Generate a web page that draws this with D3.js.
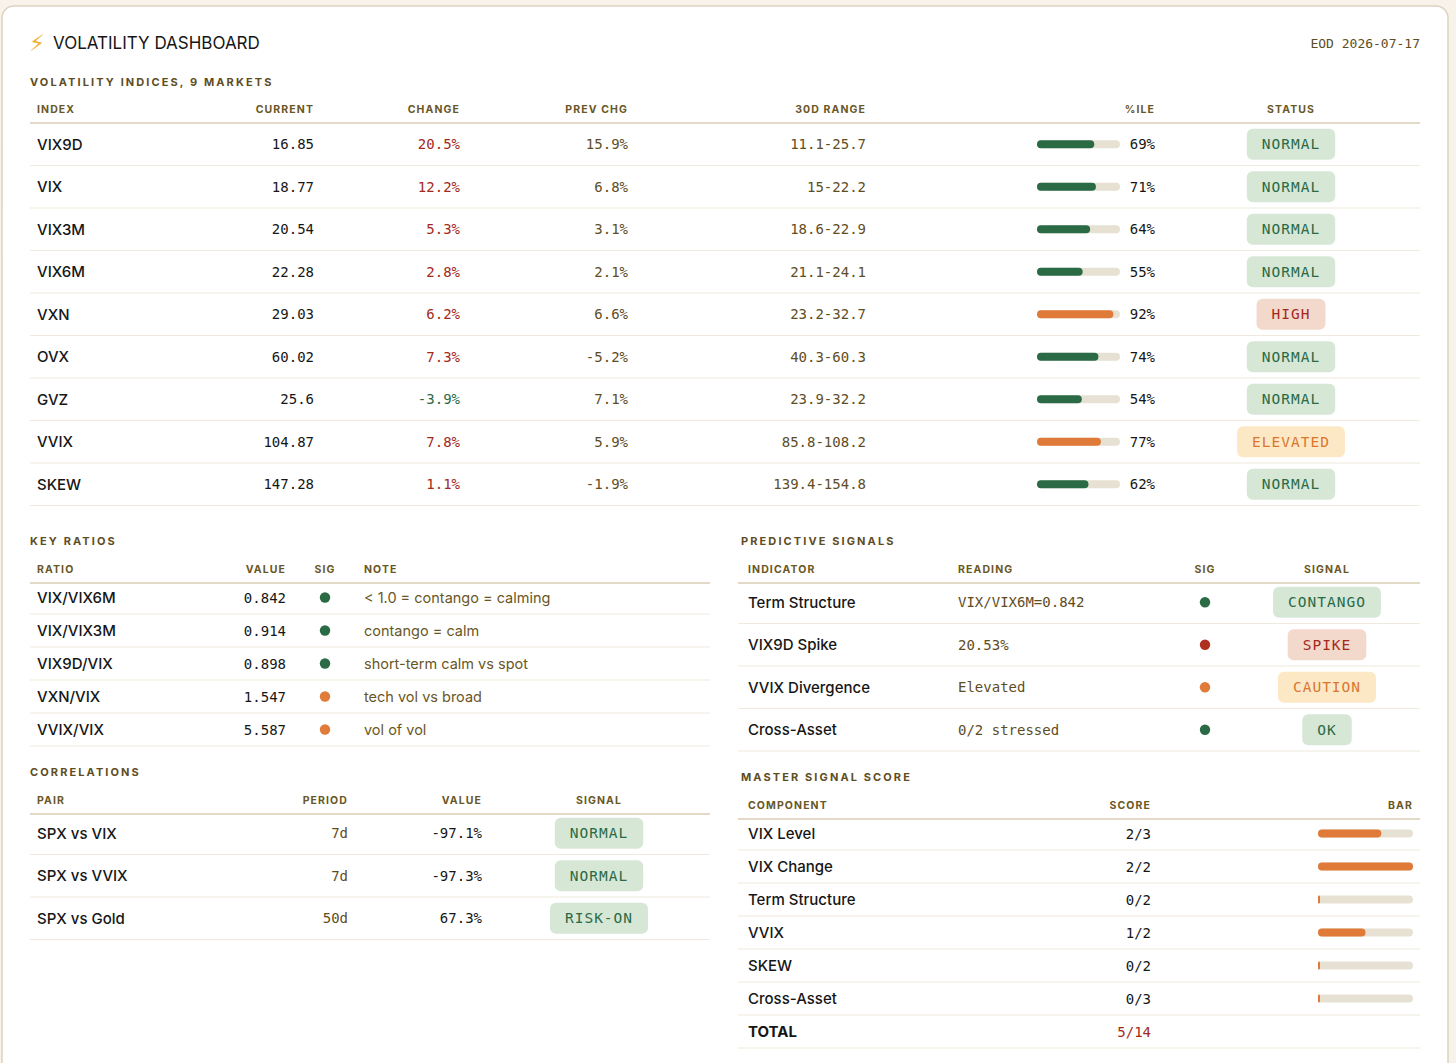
<!DOCTYPE html>
<html>
<head>
<meta charset="utf-8">
<script src="https://cdn.jsdelivr.net/npm/d3@7"></script>
<style>
  html, body { margin: 0; padding: 0; background: #f7f3ea; }
  svg { display: block; }
</style>
</head>
<body>
<div id="dash"></div>
<script>
// ---- data ----
// volatility indices
const indexNames = ["VIX9D", "VIX", "VIX3M", "VIX6M", "VXN", "OVX", "GVZ", "VVIX", "SKEW"];
const currentVals = ["16.85", "18.77", "20.54", "22.28", "29.03", "60.02", "25.6", "104.87", "147.28"];
const changePct = [20.5, 12.2, 5.3, 2.8, 6.2, 7.3, -3.9, 7.8, 1.1];
const prevChgPct = [15.9, 6.8, 3.1, 2.1, 6.6, -5.2, 7.1, 5.9, -1.9];
const rangeLow = [11.1, 15, 18.6, 21.1, 23.2, 40.3, 23.9, 85.8, 139.4];
const rangeHigh = [25.7, 22.2, 22.9, 24.1, 32.7, 60.3, 32.2, 108.2, 154.8];
const percentile = [69, 71, 64, 55, 92, 74, 54, 77, 62];
const statusVals = ["NORMAL", "NORMAL", "NORMAL", "NORMAL", "HIGH", "NORMAL", "NORMAL", "ELEVATED", "NORMAL"];

// key ratios
const ratioNames = ["VIX/VIX6M", "VIX/VIX3M", "VIX9D/VIX", "VXN/VIX", "VVIX/VIX"];
const ratioVals = ["0.842", "0.914", "0.898", "1.547", "5.587"];
const ratioSig = ["green", "green", "green", "orange", "orange"];
const ratioNotes = ["< 1.0 = contango = calming", "contango = calm", "short-term calm vs spot", "tech vol vs broad", "vol of vol"];

// correlations
const corrPairs = ["SPX vs VIX", "SPX vs VVIX", "SPX vs Gold"];
const corrPeriods = ["7d", "7d", "50d"];
const corrVals = [-97.1, -97.3, 67.3];
const corrSignals = ["NORMAL", "NORMAL", "RISK-ON"];

// predictive signals
const indicators = ["Term Structure", "VIX9D Spike", "VVIX Divergence", "Cross-Asset"];
const readings = ["VIX/VIX6M=0.842", "20.53%", "Elevated", "0/2 stressed"];
const indicatorSig = ["green", "red", "orange", "green"];
const indicatorSignals = ["CONTANGO", "SPIKE", "CAUTION", "OK"];

// master signal score
const components = ["VIX Level", "VIX Change", "Term Structure", "VVIX", "SKEW", "Cross-Asset"];
const scores = [2, 2, 0, 1, 0, 0];
const maxScores = [3, 2, 2, 2, 2, 3];

// ---- styles ----
const SANS = "Inter, 'Noto Sans', sans-serif";
const MONO = "'DejaVu Sans Mono', 'Liberation Mono', monospace";
const C = {
  ink: "#161616",
  olive: "#5e4d1f",
  head: "#6a5726",
  red: "#a3291b",
  green: "#2a6a45",
  orange: "#df7a38",
  track: "#e7e1d4",
  rowLine: "#efe9de",
  headLine: "#d8ccb4"
};
const dotColor = { green: "#2a6a45", orange: "#e07b39", red: "#b0301f" };
const badgeStyle = {
  NORMAL: ["#d6e7d6", "#2a6a45"], CONTANGO: ["#d6e7d6", "#2a6a45"],
  OK: ["#d6e7d6", "#2a6a45"], "RISK-ON": ["#d6e7d6", "#2a6a45"],
  HIGH: ["#f3d9cc", "#a3291b"], SPIKE: ["#f3d9cc", "#a3291b"],
  ELEVATED: ["#fde8c6", "#d9772f"], CAUTION: ["#fde8c6", "#d9772f"]
};

const W = 1456, H = 1063;
const svg = d3.select("#dash").append("svg").attr("width", W).attr("height", H);

// card
svg.append("rect")
  .attr("x", 2).attr("y", 6).attr("width", 1446).attr("height", 1120)
  .attr("rx", 12).attr("fill", "#ffffff")
  .attr("stroke", "#ddd2be").attr("stroke-width", 1.5);

// title
svg.append("text").attr("x", 29).attr("y", 51)
  .style("font-family", "'DejaVu Sans', sans-serif").style("font-size", "23px")
  .attr("fill", "#f2b234").text("⚡");
svg.append("text").attr("x", 53).attr("y", 49)
  .style("font-family", SANS).style("font-size", "17px").style("font-weight", 400)
  .attr("fill", C.ink).text("VOLATILITY DASHBOARD");
svg.append("text").attr("x", 1420).attr("y", 48).attr("text-anchor", "end")
  .style("font-family", MONO).style("font-size", "13px")
  .attr("fill", C.olive).text("EOD 2026-07-17");

// helpers
function sectionTitle(x, y, label) {
  svg.append("text").attr("x", x).attr("y", y)
    .style("font-family", SANS).style("font-size", "11px").style("font-weight", 700)
    .style("letter-spacing", "2.1px").attr("fill", C.olive).text(label);
}

function headerRow(y, x0, x1, cols) {
  cols.forEach(c => {
    svg.append("text").attr("x", c.x).attr("y", y)
      .attr("text-anchor", c.anchor || "start")
      .style("font-family", SANS).style("font-size", "10.5px").style("font-weight", 650)
      .style("letter-spacing", "1.1px").attr("fill", C.head).text(c.label);
  });
  svg.append("line").attr("x1", x0).attr("x2", x1).attr("y1", y + 10).attr("y2", y + 10)
    .attr("stroke", C.headLine).attr("stroke-width", 1.3);
}

function rowLines(g, y, x0, x1, keys) {
  g.selectAll("line.sep").data(keys).join("line").attr("class", "sep")
    .attr("x1", x0).attr("x2", x1)
    .attr("y1", d => y(d) + y.bandwidth()).attr("y2", d => y(d) + y.bandwidth())
    .attr("stroke", C.rowLine).attr("stroke-width", 1.2);
}

function cellText(g, keys, y, x, anchor, textFn, fill, font, size, weight) {
  return g.selectAll(null).data(keys).join("text")
    .attr("x", x).attr("y", d => y(d) + y.bandwidth() / 2).attr("dy", "0.36em")
    .attr("text-anchor", anchor)
    .style("font-family", font).style("font-size", size).style("font-weight", weight || 400)
    .attr("fill", typeof fill === "function" ? (d, i) => fill(d, i) : fill)
    .text((d, i) => textFn(d, i));
}

function badges(g, keys, y, cx, labelFn) {
  const bg = g.selectAll(null).data(keys).join("g");
  bg.each(function (d, i) {
    const label = labelFn(d, i);
    const st = badgeStyle[label];
    const sel = d3.select(this);
    const r = sel.append("rect");
    const t = sel.append("text")
      .attr("x", cx).attr("y", y(d) + y.bandwidth() / 2).attr("dy", "0.36em")
      .attr("text-anchor", "middle")
      .style("font-family", MONO).style("font-size", "14.5px").style("font-weight", 500)
      .style("letter-spacing", "1px")
      .attr("fill", st[1]).text(label);
    const w = t.node().getComputedTextLength() + 30;
    r.attr("x", cx - w / 2).attr("y", y(d) + y.bandwidth() / 2 - 15.5)
      .attr("width", w).attr("height", 31).attr("rx", 6).attr("fill", st[0]);
  });
}

function dots(g, keys, y, cx, colorFn) {
  g.selectAll(null).data(keys).join("circle")
    .attr("cx", cx).attr("cy", d => y(d) + y.bandwidth() / 2).attr("r", 5.2)
    .attr("fill", (d, i) => dotColor[colorFn(d, i)]);
}

const pct1 = v => v.toFixed(1) + "%";

// ---- Volatility indices ----
sectionTitle(30, 86, "VOLATILITY INDICES, 9 MARKETS");
headerRow(113, 30, 1420, [
  { x: 37, label: "INDEX" },
  { x: 314, label: "CURRENT", anchor: "end" },
  { x: 460, label: "CHANGE", anchor: "end" },
  { x: 628, label: "PREV CHG", anchor: "end" },
  { x: 866, label: "30D RANGE", anchor: "end" },
  { x: 1155, label: "%ILE", anchor: "end" },
  { x: 1291, label: "STATUS", anchor: "middle" }
]);
const yIdx = d3.scaleBand().domain(indexNames).range([123, 123 + 42.5 * indexNames.length]);
const gIdx = svg.append("g");
rowLines(gIdx, yIdx, 30, 1420, indexNames);
cellText(gIdx, indexNames, yIdx, 37, "start", d => d, C.ink, SANS, "15px", 500);
cellText(gIdx, indexNames, yIdx, 314, "end", (d, i) => currentVals[i], C.ink, MONO, "14px");
cellText(gIdx, indexNames, yIdx, 460, "end", (d, i) => pct1(changePct[i]),
  (d, i) => changePct[i] < 0 ? C.green : C.red, MONO, "14px");
cellText(gIdx, indexNames, yIdx, 628, "end", (d, i) => pct1(prevChgPct[i]), C.olive, MONO, "14px");
cellText(gIdx, indexNames, yIdx, 866, "end", (d, i) => rangeLow[i] + "-" + rangeHigh[i], C.olive, MONO, "14px");

// percentile bars
const xPct = d3.scaleLinear().domain([0, 100]).range([1037, 1120]);
gIdx.selectAll(null).data(indexNames).join("rect")
  .attr("x", xPct(0)).attr("y", d => yIdx(d) + yIdx.bandwidth() / 2 - 4)
  .attr("width", xPct(100) - xPct(0)).attr("height", 8).attr("rx", 4)
  .attr("fill", C.track);
gIdx.selectAll(null).data(indexNames).join("rect")
  .attr("x", xPct(0)).attr("y", d => yIdx(d) + yIdx.bandwidth() / 2 - 4)
  .attr("width", (d, i) => xPct(percentile[i]) - xPct(0)).attr("height", 8).attr("rx", 4)
  .attr("fill", (d, i) => statusVals[i] === "NORMAL" ? C.green : C.orange);
cellText(gIdx, indexNames, yIdx, 1155, "end", (d, i) => percentile[i] + "%", C.ink, MONO, "14px");
badges(gIdx, indexNames, yIdx, 1291, (d, i) => statusVals[i]);

// ---- Key ratios ----
sectionTitle(30, 545, "KEY RATIOS");
headerRow(573, 30, 710, [
  { x: 37, label: "RATIO" },
  { x: 286, label: "VALUE", anchor: "end" },
  { x: 325, label: "SIG", anchor: "middle" },
  { x: 364, label: "NOTE" }
]);
const yRat = d3.scaleBand().domain(ratioNames).range([581, 581 + 33 * ratioNames.length]);
const gRat = svg.append("g");
rowLines(gRat, yRat, 30, 710, ratioNames);
cellText(gRat, ratioNames, yRat, 37, "start", d => d, C.ink, SANS, "15px", 500);
cellText(gRat, ratioNames, yRat, 286, "end", (d, i) => ratioVals[i], C.ink, MONO, "14px");
dots(gRat, ratioNames, yRat, 325, (d, i) => ratioSig[i]);
cellText(gRat, ratioNames, yRat, 364, "start", (d, i) => ratioNotes[i], C.head, SANS, "14.5px", 400);

// ---- Correlations ----
sectionTitle(30, 776, "CORRELATIONS");
headerRow(804, 30, 710, [
  { x: 37, label: "PAIR" },
  { x: 348, label: "PERIOD", anchor: "end" },
  { x: 482, label: "VALUE", anchor: "end" },
  { x: 599, label: "SIGNAL", anchor: "middle" }
]);
const yCor = d3.scaleBand().domain(corrPairs).range([812, 812 + 42.5 * corrPairs.length]);
const gCor = svg.append("g");
rowLines(gCor, yCor, 30, 710, corrPairs);
cellText(gCor, corrPairs, yCor, 37, "start", d => d, C.ink, SANS, "15px", 500);
cellText(gCor, corrPairs, yCor, 348, "end", (d, i) => corrPeriods[i], C.olive, MONO, "14px");
cellText(gCor, corrPairs, yCor, 482, "end", (d, i) => pct1(corrVals[i]), C.ink, MONO, "14px");
badges(gCor, corrPairs, yCor, 599, (d, i) => corrSignals[i]);

// ---- Predictive signals ----
sectionTitle(741, 545, "PREDICTIVE SIGNALS");
headerRow(573, 738, 1420, [
  { x: 748, label: "INDICATOR" },
  { x: 958, label: "READING" },
  { x: 1205, label: "SIG", anchor: "middle" },
  { x: 1327, label: "SIGNAL", anchor: "middle" }
]);
const yPre = d3.scaleBand().domain(indicators).range([581, 581 + 42.5 * indicators.length]);
const gPre = svg.append("g");
rowLines(gPre, yPre, 738, 1420, indicators);
cellText(gPre, indicators, yPre, 748, "start", d => d, C.ink, SANS, "15px", 500);
cellText(gPre, indicators, yPre, 958, "start", (d, i) => readings[i], C.olive, MONO, "14px");
dots(gPre, indicators, yPre, 1205, (d, i) => indicatorSig[i]);
badges(gPre, indicators, yPre, 1327, (d, i) => indicatorSignals[i]);

// ---- Master signal score ----
sectionTitle(741, 781, "MASTER SIGNAL SCORE");
headerRow(809, 738, 1420, [
  { x: 748, label: "COMPONENT" },
  { x: 1151, label: "SCORE", anchor: "end" },
  { x: 1413, label: "BAR", anchor: "end" }
]);
const masterRows = components.concat(["TOTAL"]);
const yMas = d3.scaleBand().domain(masterRows).range([817, 817 + 33 * masterRows.length]);
const gMas = svg.append("g");
rowLines(gMas, yMas, 738, 1420, masterRows);
cellText(gMas, masterRows, yMas, 748, "start", d => d, C.ink, SANS, "15px", 500)
  .filter(d => d === "TOTAL").style("font-weight", 650);
const totalScore = d3.sum(scores), totalMax = d3.sum(maxScores);
cellText(gMas, masterRows, yMas, 1151, "end",
  (d, i) => d === "TOTAL" ? totalScore + "/" + totalMax : scores[i] + "/" + maxScores[i],
  d => d === "TOTAL" ? C.red : C.ink, MONO, "14px");

const xScore = d3.scaleLinear().domain([0, 1]).range([1318, 1413]);
gMas.selectAll(null).data(components).join("rect")
  .attr("x", xScore(0)).attr("y", d => yMas(d) + yMas.bandwidth() / 2 - 4)
  .attr("width", xScore(1) - xScore(0)).attr("height", 8).attr("rx", 4)
  .attr("fill", C.track);
gMas.selectAll(null).data(components).join("rect")
  .attr("x", xScore(0)).attr("y", d => yMas(d) + yMas.bandwidth() / 2 - 4)
  .attr("width", (d, i) => Math.max(2, xScore(scores[i] / maxScores[i]) - xScore(0)))
  .attr("height", 8).attr("rx", (d, i) => scores[i] === 0 ? 1 : 4)
  .attr("fill", C.orange);
</script>
</body>
</html>
